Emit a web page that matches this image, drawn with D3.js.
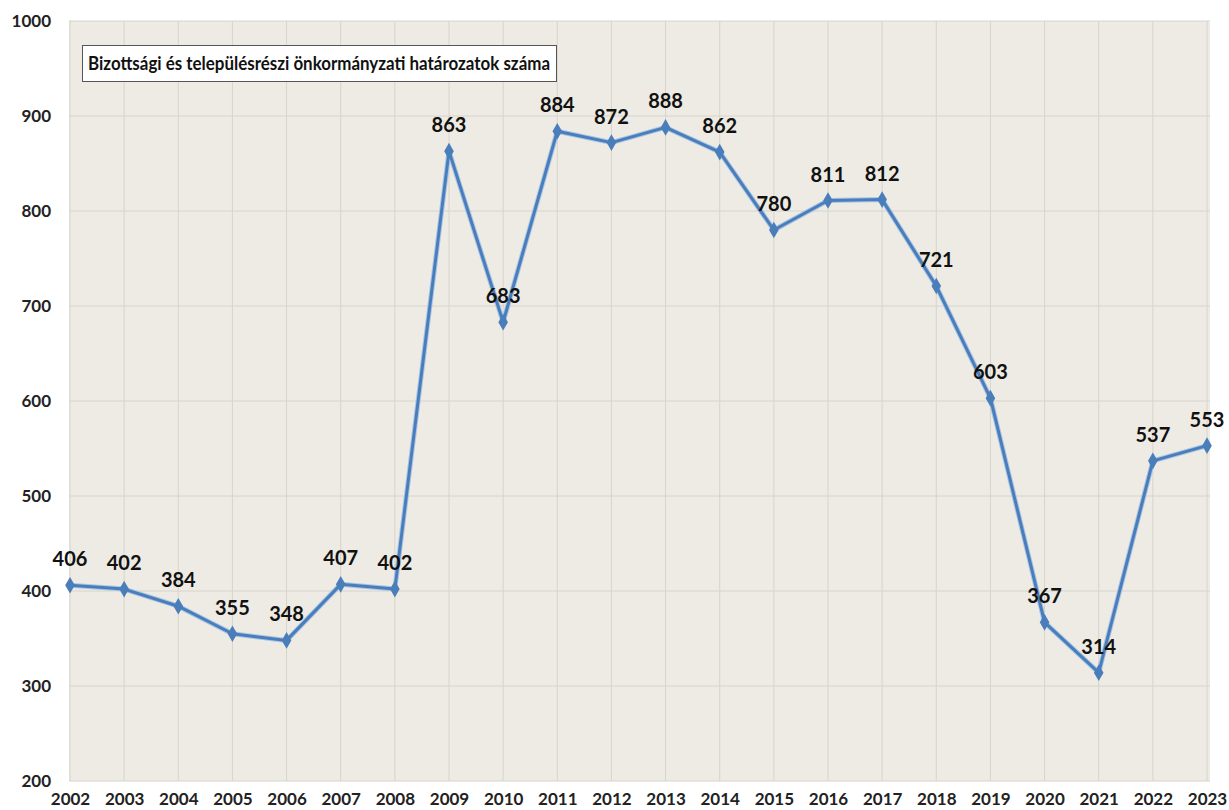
<!DOCTYPE html>
<html><head><meta charset="utf-8">
<script src="https://cdn.jsdelivr.net/npm/d3@7"></script>
<style>body{margin:0;background:#fff}svg{display:block}text{font-family:Lato,"Open Sans",sans-serif;font-weight:bold}</style>
</head><body><svg id="c" width="1229" height="810"></svg>
<script>
const years = ["2002","2003","2004","2005","2006","2007","2008","2009","2010","2011","2012","2013","2014","2015","2016","2017","2018","2019","2020","2021","2022","2023"];
const values = [406,402,384,355,348,407,402,863,683,884,872,888,862,780,811,812,721,603,367,314,537,553];
const yTicks = [200,300,400,500,600,700,800,900,1000];
const title = "Bizottsági és településrészi önkormányzati határozatok száma";

(function(){
const svg = d3.select("#c");
const pL = 70, pR = 1207, pT = 21, pB = 781;
const x = d3.scalePoint().domain(years).range([pL, pR]);
const y = d3.scaleLinear().domain([200,1000]).range([pB, pT]);

svg.append("rect").attr("x", pL-1).attr("y", pT).attr("width", 1210-pL+1).attr("height", pB-pT)
  .attr("fill", "#edebe3");

const g = svg.append("g");
g.selectAll("line.h").data(yTicks).join("line").attr("class","h")
  .attr("x1", pL-1).attr("x2", 1210).attr("y1", d=>y(d)).attr("y2", d=>y(d))
  .attr("stroke", "#d6d4cc").attr("stroke-width", 1);
g.selectAll("line.v").data(years).join("line").attr("class","v")
  .attr("x1", d=>x(d)).attr("x2", d=>x(d)).attr("y1", pT).attr("y2", pB)
  .attr("stroke", "#d6d4cc").attr("stroke-width", 1);

const yAxis = svg.append("g").attr("transform", `translate(${pL-19},0)`)
  .call(d3.axisLeft(y).tickValues(yTicks).tickSize(0).tickPadding(0).tickFormat(d3.format("d")));
yAxis.select(".domain").remove();
yAxis.selectAll("text").attr("font-size", 17).attr("fill", "#222").attr("dy", "0.35em");

const xAxis = svg.append("g").attr("transform", `translate(0,${pB})`)
  .call(d3.axisBottom(x).tickSize(0).tickPadding(0));
xAxis.select(".domain").remove();
xAxis.selectAll("text").attr("font-size", 17).attr("fill", "#222").attr("dy", null).attr("y", 24);

svg.append("rect").attr("x", 82.5).attr("y", 45.5).attr("width", 474).attr("height", 36)
  .attr("fill", "#fff").attr("stroke", "#555").attr("stroke-width", 1);
svg.append("text").attr("x", 88).attr("y", 70).attr("font-size", 19).attr("fill", "#111")
  .attr("textLength", 462).attr("lengthAdjust", "spacingAndGlyphs").text(title);

const data = years.map((yr,i)=>({yr, v: values[i], i}));
const line = d3.line().x(d=>x(d.yr)).y(d=>y(d.v));
svg.append("path").datum(data).attr("d", line).attr("fill","none")
  .attr("stroke","#a9c4e6").attr("stroke-width",5).attr("stroke-linejoin","round");
svg.append("path").datum(data).attr("d", line).attr("fill","none")
  .attr("stroke","#4a7ebb").attr("stroke-width",3).attr("stroke-linejoin","round");
svg.selectAll("path.m").data(data).join("path").attr("class","m")
  .attr("d", d3.symbol(d3.symbolDiamond, 80))
  .attr("transform", d=>`translate(${x(d.yr)},${y(d.v)})`)
  .attr("fill", "#4a7ebb");

svg.selectAll("text.lbl").data(data).join("text").attr("class","lbl")
  .attr("x", d=> x(d.yr))
  .attr("y", d=>y(d.v) - 26).attr("dy","0.35em")
  .attr("text-anchor","middle").attr("font-size",20).attr("fill","#111")
  .text(d=>d.v);
})();
</script></body></html>
